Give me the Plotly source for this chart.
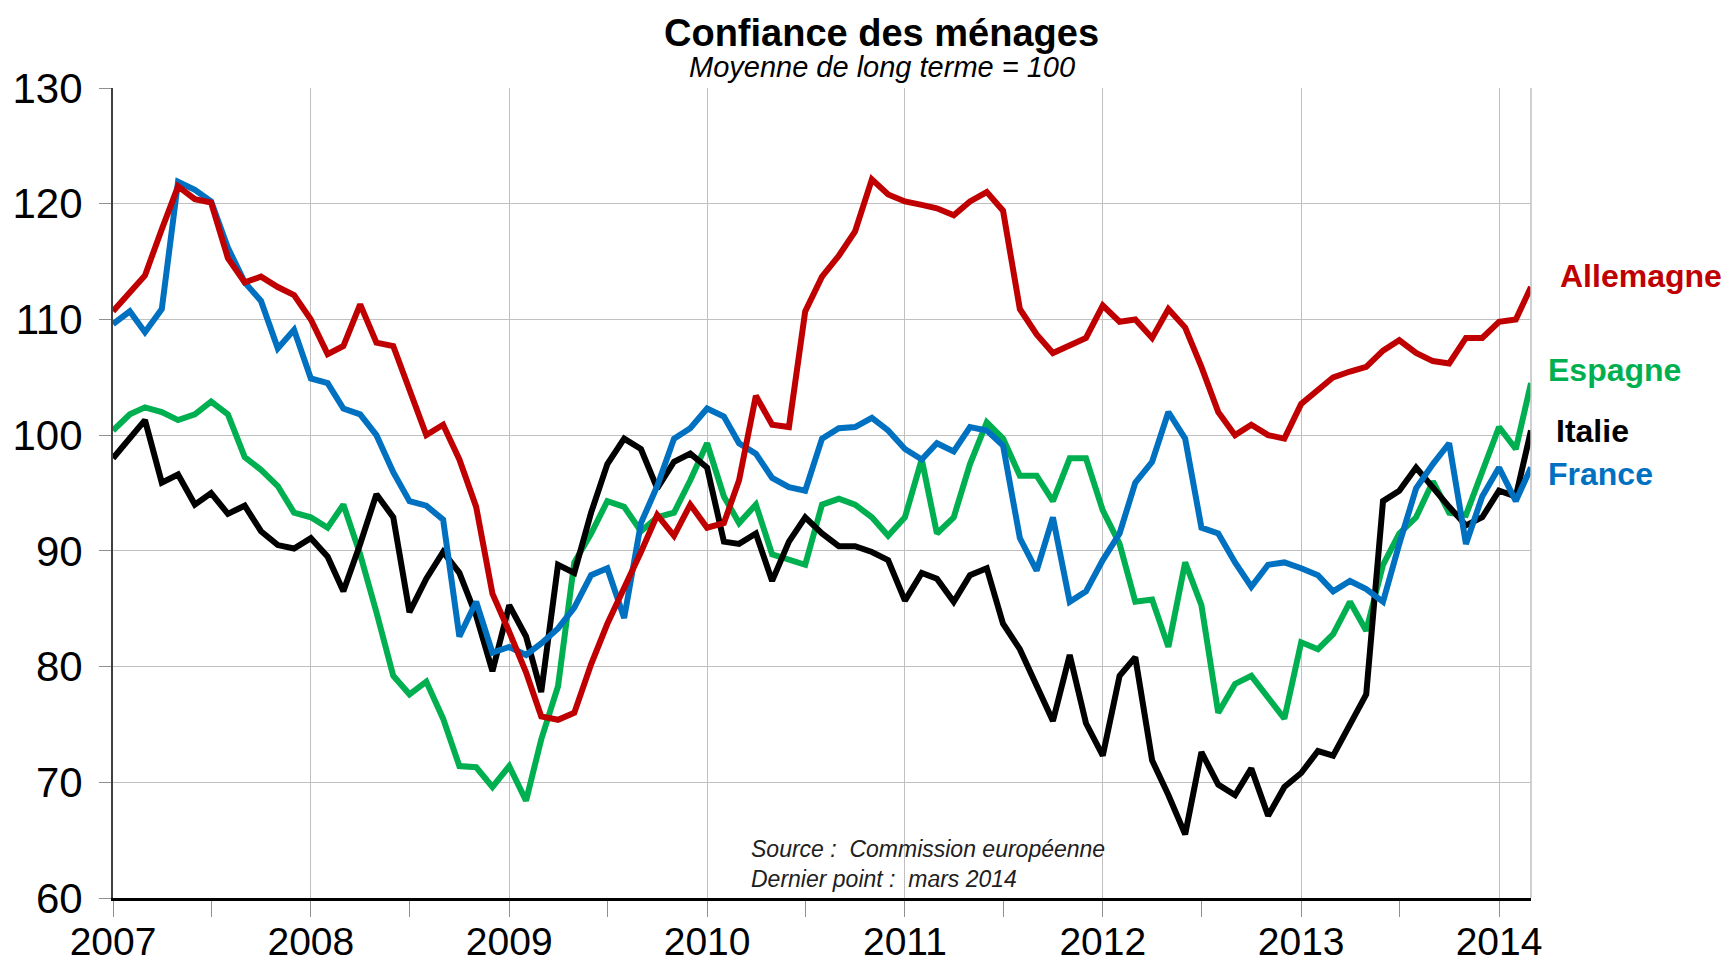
import pandas as pd
import plotly.graph_objects as go

# Monthly dates, Jan 2007 .. Mar 2014
months = pd.date_range("2007-01-01", "2014-03-01", freq="MS")

allemagne = [
    110.7, 112.3, 113.8, 117.8, 121.5, 120.4, 120.1, 115.3, 113.2, 113.7, 112.8, 112.1,
    110.0, 107.0, 107.7, 111.3, 108.0, 107.7, 103.9, 100.0, 100.9, 97.9, 93.8, 86.3,
    83.0, 79.5, 75.7, 75.4, 76.0, 80.2, 83.7, 86.7, 89.9, 93.1, 91.3, 94.0,
    92.0, 92.4, 96.1, 103.4, 100.9, 100.7, 110.7, 113.7, 115.5, 117.6, 122.1, 120.8,
    120.2, 119.9, 119.6, 119.0, 120.2, 121.0, 119.4, 110.9, 108.7, 107.1, 107.7, 108.4,
    111.2, 109.8, 110.0, 108.4, 110.9, 109.3, 105.9, 102.0, 100.0, 100.9, 100.0, 99.7,
    102.7, 103.9, 105.0, 105.5, 105.9, 107.3, 108.2, 107.1, 106.4, 106.2, 108.4, 108.4,
    109.8, 110.0, 112.8,
]

france = [
    109.6, 110.7, 108.9, 110.9, 121.9, 121.2, 120.2, 116.2, 113.2, 111.6, 107.5, 109.1,
    104.9, 104.5, 102.3, 101.8, 100.0, 96.8, 94.3, 93.9, 92.7, 82.6, 85.6, 81.2,
    81.7, 81.0, 82.0, 83.3, 85.1, 87.9, 88.5, 84.2, 92.4, 95.6, 99.7, 100.6,
    102.3, 101.6, 99.3, 98.4, 96.3, 95.5, 95.2, 99.7, 100.6, 100.7, 101.5, 100.4,
    98.8, 97.9, 99.3, 98.6, 100.7, 100.4, 99.1, 91.1, 88.3, 92.9, 85.6, 86.5,
    89.2, 91.5, 95.9, 97.7, 102.0, 99.7, 92.0, 91.5, 89.0, 86.9, 88.8, 89.0,
    88.5, 87.9, 86.5, 87.4, 86.7, 85.6, 90.6, 95.4, 97.5, 99.3, 90.6, 94.7,
    97.2, 94.3, 97.2,
]

espagne = [
    100.4, 101.8, 102.4, 102.0, 101.3, 101.8, 102.9, 101.8, 98.1, 97.0, 95.6, 93.3,
    92.9, 92.0, 94.0, 89.7, 84.7, 79.2, 77.6, 78.7, 75.5, 71.4, 71.3, 69.6,
    71.4, 68.4, 73.7, 78.3, 89.0, 91.5, 94.3, 93.8, 91.7, 92.9, 93.3, 96.1,
    99.3, 94.7, 92.4, 94.0, 89.7, 89.2, 88.8, 94.0, 94.5, 94.0, 92.9, 91.3,
    92.9, 97.9, 91.5, 92.9, 97.5, 101.1, 99.7, 96.5, 96.5, 94.3, 98.0, 98.0,
    93.5, 90.6, 85.6, 85.8, 81.7, 89.0, 85.3, 76.0, 78.5, 79.2, 77.4, 75.5,
    82.1, 81.5, 82.8, 85.6, 83.1, 88.8, 91.5, 92.9, 96.0, 93.3, 93.1, 96.8,
    100.7, 98.8, 104.5,
]

italie = [
    98.0, 99.7, 101.3, 95.9, 96.6, 94.0, 95.0, 93.2, 93.9, 91.7, 90.5, 90.2,
    91.1, 89.5, 86.5, 90.6, 94.9, 92.9, 84.7, 87.6, 89.9, 88.1, 84.4, 79.6,
    85.3, 82.6, 77.8, 88.8, 88.1, 93.3, 97.5, 99.7, 98.8, 95.4, 97.7, 98.4,
    97.2, 90.8, 90.6, 91.5, 87.4, 90.8, 92.9, 91.5, 90.4, 90.4, 89.9, 89.2,
    85.7, 88.1, 87.6, 85.6, 87.9, 88.5, 83.7, 81.5, 78.5, 75.3, 81.0, 75.1,
    72.3, 79.2, 80.8, 71.9, 68.9, 65.5, 72.6, 69.8, 68.9, 71.2, 67.1, 69.6,
    70.8, 72.7, 72.3, 75.1, 77.6, 94.3, 95.2, 97.2, 95.4, 93.8, 92.2, 92.9,
    95.2, 94.7, 100.4,
]

series_names = ["Allemagne", "France", "Espagne", "Italie"]
series_values = [allemagne, france, espagne, italie]
series_colors = ["#C00000", "#0070C0", "#00B050", "#000000"]

y_ticks = [60, 70, 80, 90, 100, 110, 120, 130]

fig = go.Figure()
for i in [2, 3, 1, 0]:  # Espagne, Italie, France, Allemagne (red on top)
    fig.add_trace(go.Scatter(
        x=months, y=series_values[i], mode="lines", name=series_names[i],
        line=dict(color=series_colors[i], width=6), showlegend=False,
    ))

FONT = "Arial, Liberation Sans, sans-serif"

# the page body has an 8px margin, so the figure is 8px smaller and its margins shifted
fig.update_layout(
    width=1725, height=955,
    margin=dict(l=105, r=202, t=80, b=65, autoexpand=False),
    paper_bgcolor="white", plot_bgcolor="white",
    font=dict(family=FONT, color="black"),
    xaxis=dict(
        type="date", automargin=False,
        range=["2007-01-01", "2014-03-01"],
        tick0="2007-01-01", dtick="M12", tickformat="%Y",
        showgrid=True, gridcolor="#C0C0C0", gridwidth=1,
        showline=True, linecolor="#000000", linewidth=3,
        ticks="outside", ticklen=16, tickcolor="#909090", tickwidth=1,
        tickfont=dict(size=39, family=FONT, color="black"),
        ticklabelstandoff=-9,
        minor=dict(dtick="M6", tick0="2007-01-01", ticks="outside", ticklen=16,
                   tickcolor="#909090", tickwidth=1, showgrid=False),
        zeroline=False,
    ),
    yaxis=dict(
        range=[60, 130], tickvals=y_ticks, automargin=False,
        showgrid=True, gridcolor="#C0C0C0", gridwidth=1,
        showline=True, linecolor="#404040", linewidth=2,
        ticks="outside", ticklen=12, tickcolor="#909090", tickwidth=1,
        tickfont=dict(size=42, family=FONT, color="black"),
        ticklabelstandoff=8,
        zeroline=False,
    ),
)

# right border of plot area
fig.add_shape(type="line", xref="paper", yref="paper", x0=1, x1=1, y0=0, y1=1,
              line=dict(color="#C0C0C0", width=1.5))

fig.add_annotation(text="<b>Confiance des ménages</b>", xref="paper", yref="paper",
                   x=0.542, y=1.0679, xanchor="center", yanchor="middle",
                   showarrow=False, font=dict(size=38, family=FONT, color="black"))
fig.add_annotation(text="<i>Moyenne de long terme = 100</i>", xref="paper", yref="paper",
                   x=0.542, y=1.026, xanchor="center", yanchor="middle",
                   showarrow=False, font=dict(size=29, family=FONT, color="black"))

fig.add_annotation(text="<i>Source :  Commission européenne<br>Dernier point :  mars 2014</i>",
                   xref="paper", yref="paper", x=0.4485, y=0.042,
                   xanchor="left", yanchor="middle", align="left",
                   showarrow=False, font=dict(size=23, family=FONT, color="#202020"))

label_pos = {
    "Allemagne": (1.019, 0.768),
    "Espagne": (1.0105, 0.652),
    "Italie": (1.0165, 0.576),
    "France": (1.0105, 0.523),
}
for name, color in zip(series_names, series_colors):
    lx, ly = label_pos[name]
    fig.add_annotation(text="<b>" + name + "</b>", xref="paper", yref="paper",
                       x=lx, y=ly, xanchor="left", yanchor="middle",
                       showarrow=False, font=dict(size=32, family=FONT, color=color))

fig.write_html("out.html")
